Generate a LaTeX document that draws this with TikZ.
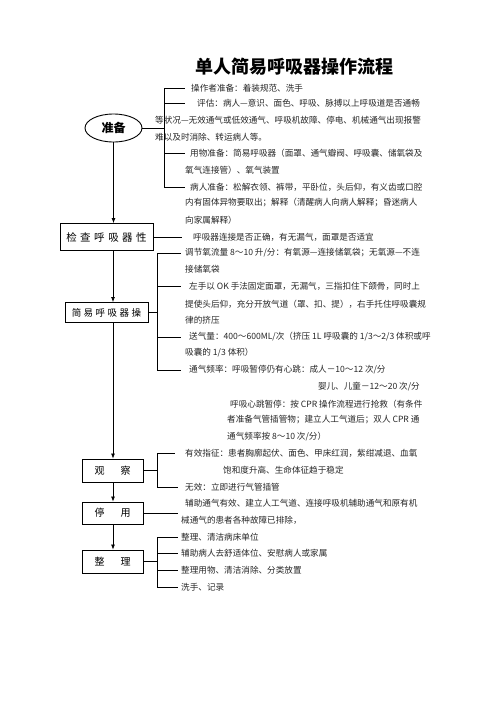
\documentclass[tikz,border=0pt]{standalone}
\usepackage{fontspec}
\setmainfont{Noto Sans CJK SC}
\usetikzlibrary{arrows.meta, positioning, shapes.geometric}

\begin{document}
\begin{tikzpicture}[
    x=1pt, y=-1pt,
    stepbox/.style={rectangle, draw, line width=0.9pt, inner sep=0pt, minimum width=61pt, minimum height=23pt, font=\fontsize{10}{12}\selectfont},
    prepnode/.style={ellipse, draw, line width=0.9pt, minimum width=57pt, minimum height=28pt, inner sep=0pt, font=\fontsize{12}{14}\selectfont\bfseries},
    txt/.style={anchor=west, inner sep=0pt, font=\fontsize{8.6}{10}\selectfont, text=black!85},
    arrow/.style={-{Latex[length=5pt, width=4pt]}, line width=0.7pt},
    link/.style={line width=0.7pt}
]

\useasboundingbox (0,0) rectangle (496,702);

\node[font=\fontsize{18}{20}\selectfont\bfseries] (title) at (294,67) {单人简易呼吸器操作流程};

\coordinate (spine) at (113,0);
\coordinate (pbar) at (164,0);
\coordinate (obar) at (157,0);

% 准备
\node[prepnode] (prep) at (113.5,128) {准备};
\node[txt] (p1) at (191,88) {操作者准备：着装规范、洗手};
\node[txt] (p2) at (197,103) {评估：病人—意识、面色、呼吸、脉搏以上呼吸道是否通畅};
\node[txt] (p2b) at (155,120) {等状况—无效通气或低效通气、呼吸机故障、停电、机械通气出现报警};
\node[txt] (p2c) at (155,137) {难以及时消除、转运病人等。};
\node[txt] (p3) at (190,153) {用物准备：简易呼吸器（面罩、通气瓣阀、呼吸囊、储氧袋及};
\node[txt] (p3b) at (185,170) {氧气连接管）、氧气装置};
\node[txt] (p4) at (190,187) {病人准备：松解衣领、裤带，平卧位，头后仰，有义齿或口腔};
\node[txt] (p4b) at (185,203) {内有固体异物要取出；解释（清醒病人向病人解释；昏迷病人};
\node[txt] (p4c) at (185,220) {向家属解释）};

\draw[link] (prep.east) -- (prep.east -| pbar);
\draw[link] (pbar |- p1.west) -- (pbar |- p4.west);
\draw[link] (pbar |- p1.west) -- ++(21,0);
\draw[link] (pbar |- p2.west) -- ++(21,0);
\draw[link] (pbar |- p3.west) -- ++(21,0);
\draw[link] (pbar |- p4.west) -- ++(21,0);

% 检查
\node[stepbox, minimum width=93pt, minimum height=27pt, font=\fontsize{10.5}{12}\selectfont] (check) at (106.5,237) {检\hspace{3.5pt}查\hspace{3.5pt}呼\hspace{3.5pt}吸\hspace{3.5pt}器\hspace{3.5pt}性};
\node[txt] (c1) at (193,237) {呼吸器连接是否正确，有无漏气，面罩是否适宜};

\draw[arrow] (prep.south) -- (check.north -| prep.south);
\draw[link] (check.east) -- ([xshift=-11pt]c1.west);

% 操作
\node[stepbox, minimum width=83pt, minimum height=20pt, font=\fontsize{9.5}{11}\selectfont] (op) at (106.5,312.5) {简\hspace{2.5pt}易\hspace{2.5pt}呼\hspace{2.5pt}吸\hspace{2.5pt}器\hspace{2.5pt}操};
\node[txt] (o1) at (185,253) {调节氧流量 8～10 升/分：有氧源—连接储氧袋；无氧源—不连};
\node[txt] (o1b) at (185,269) {接储氧袋};
\node[txt] (o2) at (189,286) {左手以 OK 手法固定面罩，无漏气，三指扣住下颌骨，同时上};
\node[txt] (o2b) at (185,304) {提使头后仰，充分开放气道（罩、扣、提），右手托住呼吸囊规};
\node[txt] (o2c) at (185,320) {律的挤压};
\node[txt] (o3) at (189,337) {送气量：400～600ML/次（挤压 1L 呼吸囊的 1/3～2/3 体积或呼};
\node[txt] (o3b) at (185,353) {吸囊的 1/3 体积）};
\node[txt] (o4) at (189,370) {通气频率：呼吸暂停仍有心跳：成人－10～12 次/分};
\node[txt, anchor=east] (o4b) at (420,387) {婴儿、儿童－12～20 次/分};
\node[txt] (o4c) at (230,404) {呼吸心跳暂停：按 CPR 操作流程进行抢救（有条件};
\node[txt] (o4d) at (227,420) {者准备气管插管物；建立人工气道后；双人 CPR 通};
\node[txt] (o4e) at (227,437) {通气频率按 8～10 次/分）};

\draw[arrow] (check.south -| spine) -- (op.north -| spine);
\draw[link] (op.east) -- (op.east -| obar);
\draw[link] (obar |- o1.west) -- (obar |- o4.west);
\draw[link] (obar |- o1.west) -- ++(24,0);
\draw[link] (obar |- o2.west) -- ++(24,0);
\draw[link] (obar |- o3.west) -- ++(24,0);
\draw[link] (obar |- o4.west) -- ++(24,0);

% 观察
\node[stepbox] (watch) at (112.5,470.5) {观\hspace{16pt}察};
\node[txt] (e1) at (185,453) {有效指征：患者胸廓起伏、面色、甲床红润，紫绀减退、血氧};
\node[txt] (e1b) at (223,470) {饱和度升高、生命体征趋于稳定};
\node[txt] (e2) at (185,487) {无效：立即进行气管插管};

\draw[arrow] (op.south -| spine) -- (watch.north -| spine);
\draw[link] (watch.east) -- (watch.east -| obar);
\draw[link] (obar |- e1.west) -- (obar |- e2.west);
\draw[link] (obar |- e1.west) -- ++(18,0);
\draw[link] (obar |- e2.west) -- ++(21,0);

% 停用
\node[stepbox, minimum height=22pt] (stop) at (112.5,513) {停\hspace{16pt}用};
\node[txt] (s1) at (185,503) {辅助通气有效、建立人工气道、连接呼吸机辅助通气和原有机};
\node[txt] (s1b) at (181,520) {械通气的患者各种故障已排除，};

\draw[arrow] (watch.south -| spine) -- (stop.north -| spine);
\draw[link] (stop.east) -- ++(35,0);

% 整理
\node[stepbox] (tidy) at (112.5,561.5) {整\hspace{16pt}理};
\node[txt] (f1) at (181,537) {整理、清洁病床单位};
\node[txt] (f2) at (181,553) {辅助病人去舒适体位、安慰病人或家属};
\node[txt] (f3) at (181,570) {整理用物、清洁消除、分类放置};
\node[txt] (f4) at (181,587) {洗手、记录};

\draw[arrow] (stop.south -| spine) -- (tidy.north -| spine);
\draw[link] (tidy.east) -- (tidy.east -| obar);
\draw[link] (obar |- f1.west) -- (obar |- f4.west);
\draw[link] (obar |- f1.west) -- ([xshift=-3pt]f1.west);
\draw[link] (obar |- f2.west) -- ([xshift=-3pt]f2.west);
\draw[link] (obar |- f3.west) -- ([xshift=-3pt]f3.west);
\draw[link] (obar |- f4.west) -- ([xshift=-3pt]f4.west);

\end{tikzpicture}
\end{document}
